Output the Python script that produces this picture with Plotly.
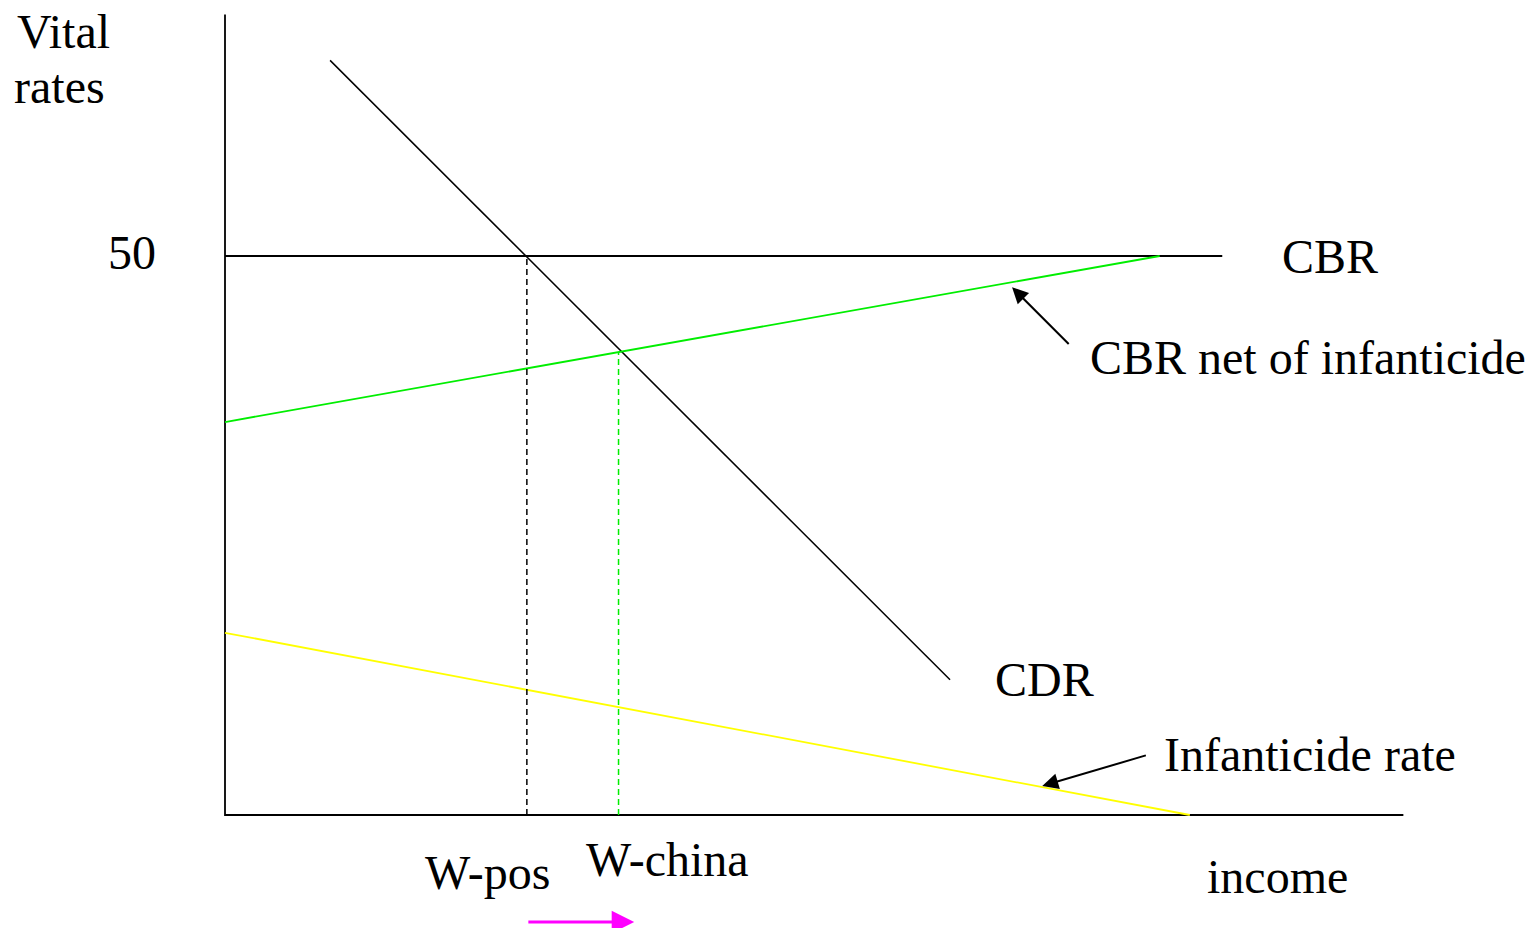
import plotly.graph_objects as go

# ---- data (income units, vital rate per 1000) ----
cdr_income = [9.4, 64.85]
cdr_rate = [67.5, 12.1]
cbr_income = [0, 89.2]
cbr_rate = [50, 50]
cbr_net_income = [0, 83.6]
cbr_net_rate = [35.15, 50]
infanticide_income = [0, 86.3]
infanticide_rate = [16.3, 0]
w_pos_income = [27.0, 27.0]
w_pos_rate = [0, 50]
w_china_income = [35.2, 35.2]
w_china_rate = [0, 41.4]
axis_x_income = [0, 0, 105.4]
axis_x_rate = [71.6, 0, 0]

SCALE = 11.18  # px per unit
FONT = "Liberation Serif"

fig = go.Figure()

def line(x, y, color, width=1.5, dash=None):
    fig.add_trace(go.Scatter(x=x, y=y, mode="lines",
                             line=dict(color=color, width=width, dash=dash),
                             hoverinfo="skip", showlegend=False))

line(axis_x_income, axis_x_rate, "black", 1.8)
line(cbr_income, cbr_rate, "black", 1.8)
line(cdr_income, cdr_rate, "black", 1.5)
line(cbr_net_income, cbr_net_rate, "#00ee00", 1.8)
line(infanticide_income, infanticide_rate, "#ffff00", 1.8)
line(w_pos_income, w_pos_rate, "black", 1.5, "6px,4px")
line(w_china_income, w_china_rate, "#00ee00", 1.5, "6px,4px")

def label(text, x, y, xanchor="center"):
    fig.add_annotation(x=x, y=y, text=text, showarrow=False, xanchor=xanchor,
                       yanchor="middle", font=dict(family=FONT, size=48, color="black"))

label("Vital", -18.8, 70.05, "left")
label("rates", -19.05, 65.2, "left")
label("50", -8.32, 50.3)
label("CBR", 98.8, 50.0)
label("CBR net of infanticide", 77.2, 40.9, "left")
label("CDR", 73.3, 12.1)
label("Infanticide rate", 83.8, 5.37, "left")
label("W-pos", 23.5, -5.1)
label("W-china", 39.6, -4.0)
label("income", 94.1, -5.46)

def arrow(x0, y0, x1, y1, color, width=2, size=1.6):
    fig.add_annotation(x=x1, y=y1, ax=x0, ay=y0, xref="x", yref="y",
                       axref="x", ayref="y", text="", showarrow=True,
                       arrowhead=2, arrowsize=size, arrowwidth=width, arrowcolor=color)

arrow(75.6, 42.0, 70.4, 47.2, "black")
arrow(82.5, 5.37, 73.1, 2.6, "black")
arrow(27.0, -9.57, 36.6, -9.57, "#ff00ff", 3, 1.5)

fig.update_layout(
    width=1531, height=928,
    margin=dict(l=0, r=0, t=0, b=0),
    plot_bgcolor="white", paper_bgcolor="white",
    xaxis=dict(range=[-225 / SCALE, (1531 - 225) / SCALE], visible=False, fixedrange=True),
    yaxis=dict(range=[(815 - 928) / SCALE, 815 / SCALE], visible=False, fixedrange=True),
    showlegend=False,
)

fig.write_html("out.html", config={"displayModeBar": False},
               post_script="document.body.style.margin='0';document.body.style.overflow='hidden';")
